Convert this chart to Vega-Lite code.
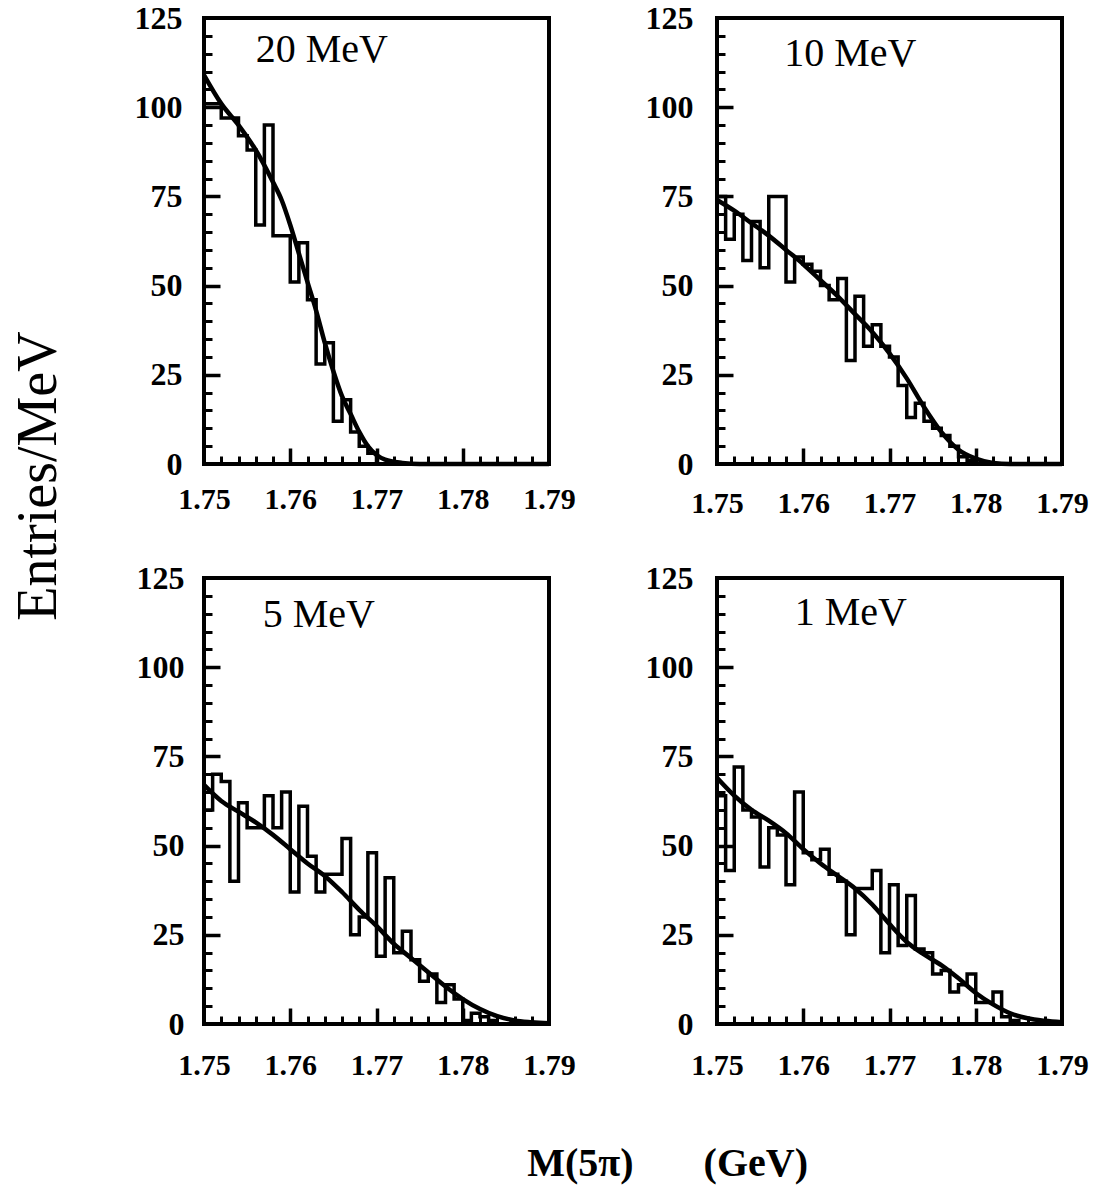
{
  "$schema": "https://vega.github.io/schema/vega-lite/v6.json",
  "background": "white",
  "padding": {"left": 10, "top": 0, "right": 5, "bottom": 5},
  "config": {
    "view": {"stroke": "black", "strokeWidth": 4},
    "font": "Liberation Serif"
  },
  "datasets": {
    "hist": [
      {"p":"20 MeV","m":1.750,"v":101},{"p":"20 MeV","m":1.751,"v":101},{"p":"20 MeV","m":1.752,"v":97},{"p":"20 MeV","m":1.753,"v":97},{"p":"20 MeV","m":1.754,"v":92},{"p":"20 MeV","m":1.755,"v":88},{"p":"20 MeV","m":1.756,"v":67},{"p":"20 MeV","m":1.757,"v":95},{"p":"20 MeV","m":1.758,"v":64},{"p":"20 MeV","m":1.759,"v":64},{"p":"20 MeV","m":1.760,"v":51},{"p":"20 MeV","m":1.761,"v":62},{"p":"20 MeV","m":1.762,"v":46},{"p":"20 MeV","m":1.763,"v":28},{"p":"20 MeV","m":1.764,"v":34},{"p":"20 MeV","m":1.765,"v":12},{"p":"20 MeV","m":1.766,"v":18},{"p":"20 MeV","m":1.767,"v":9},{"p":"20 MeV","m":1.768,"v":5},{"p":"20 MeV","m":1.769,"v":3},{"p":"20 MeV","m":1.770,"v":0},{"p":"20 MeV","m":1.771,"v":0},{"p":"20 MeV","m":1.772,"v":0},{"p":"20 MeV","m":1.773,"v":0},{"p":"20 MeV","m":1.774,"v":0},{"p":"20 MeV","m":1.775,"v":0},{"p":"20 MeV","m":1.776,"v":0},{"p":"20 MeV","m":1.777,"v":0},{"p":"20 MeV","m":1.778,"v":0},{"p":"20 MeV","m":1.779,"v":0},{"p":"20 MeV","m":1.780,"v":0},{"p":"20 MeV","m":1.781,"v":0},{"p":"20 MeV","m":1.782,"v":0},{"p":"20 MeV","m":1.783,"v":0},{"p":"20 MeV","m":1.784,"v":0},{"p":"20 MeV","m":1.785,"v":0},{"p":"20 MeV","m":1.786,"v":0},{"p":"20 MeV","m":1.787,"v":0},{"p":"20 MeV","m":1.788,"v":0},{"p":"20 MeV","m":1.789,"v":0},{"p":"20 MeV","m":1.790,"v":0},
      {"p":"10 MeV","m":1.750,"v":75},{"p":"10 MeV","m":1.751,"v":63},{"p":"10 MeV","m":1.752,"v":70},{"p":"10 MeV","m":1.753,"v":57},{"p":"10 MeV","m":1.754,"v":68},{"p":"10 MeV","m":1.755,"v":55},{"p":"10 MeV","m":1.756,"v":75},{"p":"10 MeV","m":1.757,"v":75},{"p":"10 MeV","m":1.758,"v":51},{"p":"10 MeV","m":1.759,"v":58},{"p":"10 MeV","m":1.760,"v":56},{"p":"10 MeV","m":1.761,"v":54},{"p":"10 MeV","m":1.762,"v":50},{"p":"10 MeV","m":1.763,"v":46},{"p":"10 MeV","m":1.764,"v":52},{"p":"10 MeV","m":1.765,"v":29},{"p":"10 MeV","m":1.766,"v":47},{"p":"10 MeV","m":1.767,"v":33},{"p":"10 MeV","m":1.768,"v":39},{"p":"10 MeV","m":1.769,"v":33},{"p":"10 MeV","m":1.770,"v":30},{"p":"10 MeV","m":1.771,"v":22},{"p":"10 MeV","m":1.772,"v":13},{"p":"10 MeV","m":1.773,"v":17},{"p":"10 MeV","m":1.774,"v":12},{"p":"10 MeV","m":1.775,"v":10},{"p":"10 MeV","m":1.776,"v":8},{"p":"10 MeV","m":1.777,"v":5},{"p":"10 MeV","m":1.778,"v":2},{"p":"10 MeV","m":1.779,"v":1},{"p":"10 MeV","m":1.780,"v":0},{"p":"10 MeV","m":1.781,"v":0},{"p":"10 MeV","m":1.782,"v":0},{"p":"10 MeV","m":1.783,"v":0},{"p":"10 MeV","m":1.784,"v":0},{"p":"10 MeV","m":1.785,"v":0},{"p":"10 MeV","m":1.786,"v":0},{"p":"10 MeV","m":1.787,"v":0},{"p":"10 MeV","m":1.788,"v":0},{"p":"10 MeV","m":1.789,"v":0},{"p":"10 MeV","m":1.790,"v":0},
      {"p":"5 MeV","m":1.750,"v":60},{"p":"5 MeV","m":1.751,"v":70},{"p":"5 MeV","m":1.752,"v":68},{"p":"5 MeV","m":1.753,"v":40},{"p":"5 MeV","m":1.754,"v":62},{"p":"5 MeV","m":1.755,"v":55},{"p":"5 MeV","m":1.756,"v":55},{"p":"5 MeV","m":1.757,"v":64},{"p":"5 MeV","m":1.758,"v":55},{"p":"5 MeV","m":1.759,"v":65},{"p":"5 MeV","m":1.760,"v":37},{"p":"5 MeV","m":1.761,"v":61},{"p":"5 MeV","m":1.762,"v":47},{"p":"5 MeV","m":1.763,"v":37},{"p":"5 MeV","m":1.764,"v":42},{"p":"5 MeV","m":1.765,"v":42},{"p":"5 MeV","m":1.766,"v":52},{"p":"5 MeV","m":1.767,"v":25},{"p":"5 MeV","m":1.768,"v":30},{"p":"5 MeV","m":1.769,"v":48},{"p":"5 MeV","m":1.770,"v":19},{"p":"5 MeV","m":1.771,"v":41},{"p":"5 MeV","m":1.772,"v":20},{"p":"5 MeV","m":1.773,"v":26},{"p":"5 MeV","m":1.774,"v":18},{"p":"5 MeV","m":1.775,"v":12},{"p":"5 MeV","m":1.776,"v":14},{"p":"5 MeV","m":1.777,"v":6},{"p":"5 MeV","m":1.778,"v":11},{"p":"5 MeV","m":1.779,"v":7},{"p":"5 MeV","m":1.780,"v":1},{"p":"5 MeV","m":1.781,"v":3},{"p":"5 MeV","m":1.782,"v":2},{"p":"5 MeV","m":1.783,"v":1},{"p":"5 MeV","m":1.784,"v":0},{"p":"5 MeV","m":1.785,"v":0},{"p":"5 MeV","m":1.786,"v":0},{"p":"5 MeV","m":1.787,"v":0},{"p":"5 MeV","m":1.788,"v":0},{"p":"5 MeV","m":1.789,"v":0},{"p":"5 MeV","m":1.790,"v":0},
      {"p":"1 MeV","m":1.750,"v":64},{"p":"1 MeV","m":1.751,"v":43},{"p":"1 MeV","m":1.752,"v":72},{"p":"1 MeV","m":1.753,"v":60},{"p":"1 MeV","m":1.754,"v":58},{"p":"1 MeV","m":1.755,"v":44},{"p":"1 MeV","m":1.756,"v":55},{"p":"1 MeV","m":1.757,"v":53},{"p":"1 MeV","m":1.758,"v":39},{"p":"1 MeV","m":1.759,"v":65},{"p":"1 MeV","m":1.760,"v":48},{"p":"1 MeV","m":1.761,"v":46},{"p":"1 MeV","m":1.762,"v":49},{"p":"1 MeV","m":1.763,"v":42},{"p":"1 MeV","m":1.764,"v":40},{"p":"1 MeV","m":1.765,"v":25},{"p":"1 MeV","m":1.766,"v":38},{"p":"1 MeV","m":1.767,"v":38},{"p":"1 MeV","m":1.768,"v":43},{"p":"1 MeV","m":1.769,"v":20},{"p":"1 MeV","m":1.770,"v":39},{"p":"1 MeV","m":1.771,"v":22},{"p":"1 MeV","m":1.772,"v":36},{"p":"1 MeV","m":1.773,"v":21},{"p":"1 MeV","m":1.774,"v":20},{"p":"1 MeV","m":1.775,"v":14},{"p":"1 MeV","m":1.776,"v":15},{"p":"1 MeV","m":1.777,"v":9},{"p":"1 MeV","m":1.778,"v":11},{"p":"1 MeV","m":1.779,"v":14},{"p":"1 MeV","m":1.780,"v":6},{"p":"1 MeV","m":1.781,"v":6},{"p":"1 MeV","m":1.782,"v":9},{"p":"1 MeV","m":1.783,"v":2},{"p":"1 MeV","m":1.784,"v":1},{"p":"1 MeV","m":1.785,"v":0},{"p":"1 MeV","m":1.786,"v":0},{"p":"1 MeV","m":1.787,"v":0},{"p":"1 MeV","m":1.788,"v":0},{"p":"1 MeV","m":1.789,"v":0},{"p":"1 MeV","m":1.790,"v":0}
    ],
    "fit": [
      {"p":"20 MeV","m":1.750,"v":109},{"p":"20 MeV","m":1.752,"v":101},{"p":"20 MeV","m":1.754,"v":95},{"p":"20 MeV","m":1.756,"v":88},{"p":"20 MeV","m":1.758,"v":79},{"p":"20 MeV","m":1.759,"v":74},{"p":"20 MeV","m":1.760,"v":67},{"p":"20 MeV","m":1.761,"v":59},{"p":"20 MeV","m":1.762,"v":51},{"p":"20 MeV","m":1.763,"v":43},{"p":"20 MeV","m":1.764,"v":34},{"p":"20 MeV","m":1.765,"v":26},{"p":"20 MeV","m":1.766,"v":19},{"p":"20 MeV","m":1.767,"v":14},{"p":"20 MeV","m":1.768,"v":9},{"p":"20 MeV","m":1.769,"v":5},{"p":"20 MeV","m":1.770,"v":2.5},{"p":"20 MeV","m":1.771,"v":1.2},{"p":"20 MeV","m":1.773,"v":0.3},{"p":"20 MeV","m":1.775,"v":0},{"p":"20 MeV","m":1.790,"v":0},
      {"p":"10 MeV","m":1.750,"v":74},{"p":"10 MeV","m":1.752,"v":71},{"p":"10 MeV","m":1.754,"v":67.5},{"p":"10 MeV","m":1.756,"v":64},{"p":"10 MeV","m":1.758,"v":60},{"p":"10 MeV","m":1.760,"v":56},{"p":"10 MeV","m":1.762,"v":51.5},{"p":"10 MeV","m":1.764,"v":47},{"p":"10 MeV","m":1.766,"v":42},{"p":"10 MeV","m":1.768,"v":37},{"p":"10 MeV","m":1.770,"v":31},{"p":"10 MeV","m":1.772,"v":24},{"p":"10 MeV","m":1.774,"v":16},{"p":"10 MeV","m":1.776,"v":9},{"p":"10 MeV","m":1.778,"v":4},{"p":"10 MeV","m":1.780,"v":1.5},{"p":"10 MeV","m":1.782,"v":0.3},{"p":"10 MeV","m":1.784,"v":0},{"p":"10 MeV","m":1.790,"v":0},
      {"p":"5 MeV","m":1.750,"v":67},{"p":"5 MeV","m":1.752,"v":62.5},{"p":"5 MeV","m":1.754,"v":59.5},{"p":"5 MeV","m":1.756,"v":56.5},{"p":"5 MeV","m":1.758,"v":53},{"p":"5 MeV","m":1.760,"v":49},{"p":"5 MeV","m":1.762,"v":45},{"p":"5 MeV","m":1.764,"v":41.5},{"p":"5 MeV","m":1.766,"v":37},{"p":"5 MeV","m":1.768,"v":32},{"p":"5 MeV","m":1.770,"v":27.5},{"p":"5 MeV","m":1.772,"v":22.5},{"p":"5 MeV","m":1.774,"v":18.5},{"p":"5 MeV","m":1.776,"v":14.5},{"p":"5 MeV","m":1.778,"v":10.5},{"p":"5 MeV","m":1.780,"v":7},{"p":"5 MeV","m":1.782,"v":4.2},{"p":"5 MeV","m":1.784,"v":2.2},{"p":"5 MeV","m":1.786,"v":1},{"p":"5 MeV","m":1.788,"v":0.5},{"p":"5 MeV","m":1.790,"v":0.2},
      {"p":"1 MeV","m":1.750,"v":69},{"p":"1 MeV","m":1.752,"v":64},{"p":"1 MeV","m":1.754,"v":60},{"p":"1 MeV","m":1.756,"v":57},{"p":"1 MeV","m":1.758,"v":53.5},{"p":"1 MeV","m":1.760,"v":49},{"p":"1 MeV","m":1.762,"v":45},{"p":"1 MeV","m":1.764,"v":41.5},{"p":"1 MeV","m":1.766,"v":38},{"p":"1 MeV","m":1.768,"v":33.5},{"p":"1 MeV","m":1.770,"v":28},{"p":"1 MeV","m":1.772,"v":23},{"p":"1 MeV","m":1.774,"v":19.5},{"p":"1 MeV","m":1.776,"v":16.5},{"p":"1 MeV","m":1.778,"v":12.8},{"p":"1 MeV","m":1.780,"v":8.7},{"p":"1 MeV","m":1.782,"v":5.5},{"p":"1 MeV","m":1.784,"v":3},{"p":"1 MeV","m":1.786,"v":1.6},{"p":"1 MeV","m":1.788,"v":0.9},{"p":"1 MeV","m":1.790,"v":0.5}
    ],
    "labels": [
      {"p":"20 MeV","label":"20 MeV"},{"p":"10 MeV","label":"10 MeV"},{"p":"5 MeV","label":"5 MeV"},{"p":"1 MeV","label":"1 MeV"}
    ]
  },
  "title": {"text": "M(5π)\u00a0\u00a0\u00a0\u00a0\u00a0\u00a0\u00a0(GeV)", "orient": "bottom", "anchor": "middle", "font": "Liberation Serif", "fontSize": 40, "fontWeight": "bold", "color": "black", "offset": 62, "dx": 117},
  "vconcat": [
    {
      "title": {"text": "Entries/MeV", "orient": "left", "anchor": "middle", "font": "Liberation Serif", "fontSize": 56, "fontWeight": "normal", "color": "black", "offset": 64, "dx": 65},
      "columns": 2,
      "bounds": "flush",
      "spacing": {"row": 114, "column": 168},
      "concat": [
        {
          "width": 345, "height": 446,
          "resolve": {"axis": {"x": "independent", "y": "independent"}},
          "layer": [
            {"data": {"name": "hist"}, "transform": [{"filter": "datum.p === '20 MeV'"}],
             "mark": {"type": "line", "interpolate": "step-after", "color": "black", "strokeWidth": 3.5},
             "encoding": {
               "x": {"field": "m", "type": "quantitative", "scale": {"domain": [1.75, 1.79], "nice": false, "zero": false}, "axis": {"orient": "bottom", "values": [1.75, 1.76, 1.77, 1.78, 1.79], "format": ".2f", "ticks": false, "domain": false, "grid": false, "title": null, "labelFont": "Liberation Serif", "labelFontSize": 30, "labelFontWeight": "bold", "labelColor": "black", "labelPadding": 20, "labelFlush": false, "labelOverlap": false}},
               "y": {"field": "v", "type": "quantitative", "scale": {"domain": [0, 125], "nice": false}, "axis": {"orient": "left", "values": [0, 25, 50, 75, 100, 125], "ticks": false, "domain": false, "grid": false, "title": null, "labelFont": "Liberation Serif", "labelFontSize": 32, "labelFontWeight": "bold", "labelColor": "black", "labelPadding": 22}}
             }},
            {"data": {"name": "fit"}, "transform": [{"filter": "datum.p === '20 MeV'"}],
             "mark": {"type": "line", "interpolate": "monotone", "color": "black", "strokeWidth": 4.5},
             "encoding": {
               "x": {"field": "m", "type": "quantitative", "axis": {"orient": "top", "offset": -446, "zindex": 1, "values": [1.76, 1.77, 1.78], "tickSize": 16, "tickWidth": 3.5, "tickColor": "black", "labels": false, "domain": false, "grid": false, "title": null}},
               "y": {"field": "v", "type": "quantitative", "axis": {"orient": "right", "offset": -345, "zindex": 1, "values": [25, 50, 75, 100], "tickSize": 16, "tickWidth": 3.5, "tickColor": "black", "labels": false, "domain": false, "grid": false, "title": null}}
             }},
            {"data": {"name": "fit"}, "transform": [{"filter": "datum.p === '20 MeV'"}],
             "mark": {"type": "line", "interpolate": "monotone", "strokeOpacity": 0},
             "encoding": {
               "x": {"field": "m", "type": "quantitative", "axis": {"orient": "top", "offset": -446, "zindex": 1, "values": [1.752, 1.754, 1.756, 1.758, 1.762, 1.764, 1.766, 1.768, 1.772, 1.774, 1.776, 1.778, 1.782, 1.784, 1.786, 1.788], "tickSize": 8, "tickWidth": 3, "tickColor": "black", "labels": false, "domain": false, "grid": false, "title": null}},
               "y": {"field": "v", "type": "quantitative", "axis": {"orient": "right", "offset": -345, "zindex": 1, "values": [5, 10, 15, 20, 30, 35, 40, 45, 55, 60, 65, 70, 80, 85, 90, 95, 105, 110, 115, 120], "tickSize": 8, "tickWidth": 3, "tickColor": "black", "labels": false, "domain": false, "grid": false, "title": null}}
             }},
            {"data": {"name": "labels"}, "transform": [{"filter": "datum.p === '20 MeV'"}],
             "mark": {"type": "text", "font": "Liberation Serif", "fontSize": 40, "align": "left", "baseline": "middle", "color": "black"},
             "encoding": {"text": {"field": "label"}, "x": {"datum": 1.756, "axis": null}, "y": {"datum": 116, "axis": null}}}
          ]
        },
        {
          "width": 345, "height": 446,
          "resolve": {"axis": {"x": "independent", "y": "independent"}},
          "layer": [
            {"data": {"name": "hist"}, "transform": [{"filter": "datum.p === '10 MeV'"}],
             "mark": {"type": "line", "interpolate": "step-after", "color": "black", "strokeWidth": 3.5},
             "encoding": {
               "x": {"field": "m", "type": "quantitative", "scale": {"domain": [1.75, 1.79], "nice": false, "zero": false}, "axis": {"orient": "bottom", "values": [1.75, 1.76, 1.77, 1.78, 1.79], "format": ".2f", "ticks": false, "domain": false, "grid": false, "title": null, "labelFont": "Liberation Serif", "labelFontSize": 30, "labelFontWeight": "bold", "labelColor": "black", "labelPadding": 24, "labelFlush": false, "labelOverlap": false}},
               "y": {"field": "v", "type": "quantitative", "scale": {"domain": [0, 125], "nice": false}, "axis": {"orient": "left", "values": [0, 25, 50, 75, 100, 125], "ticks": false, "domain": false, "grid": false, "title": null, "labelFont": "Liberation Serif", "labelFontSize": 32, "labelFontWeight": "bold", "labelColor": "black", "labelPadding": 24}}
             }},
            {"data": {"name": "fit"}, "transform": [{"filter": "datum.p === '10 MeV'"}],
             "mark": {"type": "line", "interpolate": "monotone", "color": "black", "strokeWidth": 4.5},
             "encoding": {
               "x": {"field": "m", "type": "quantitative", "axis": {"orient": "top", "offset": -446, "zindex": 1, "values": [1.76, 1.77, 1.78], "tickSize": 16, "tickWidth": 3.5, "tickColor": "black", "labels": false, "domain": false, "grid": false, "title": null}},
               "y": {"field": "v", "type": "quantitative", "axis": {"orient": "right", "offset": -345, "zindex": 1, "values": [25, 50, 75, 100], "tickSize": 16, "tickWidth": 3.5, "tickColor": "black", "labels": false, "domain": false, "grid": false, "title": null}}
             }},
            {"data": {"name": "fit"}, "transform": [{"filter": "datum.p === '10 MeV'"}],
             "mark": {"type": "line", "interpolate": "monotone", "strokeOpacity": 0},
             "encoding": {
               "x": {"field": "m", "type": "quantitative", "axis": {"orient": "top", "offset": -446, "zindex": 1, "values": [1.752, 1.754, 1.756, 1.758, 1.762, 1.764, 1.766, 1.768, 1.772, 1.774, 1.776, 1.778, 1.782, 1.784, 1.786, 1.788], "tickSize": 8, "tickWidth": 3, "tickColor": "black", "labels": false, "domain": false, "grid": false, "title": null}},
               "y": {"field": "v", "type": "quantitative", "axis": {"orient": "right", "offset": -345, "zindex": 1, "values": [5, 10, 15, 20, 30, 35, 40, 45, 55, 60, 65, 70, 80, 85, 90, 95, 105, 110, 115, 120], "tickSize": 8, "tickWidth": 3, "tickColor": "black", "labels": false, "domain": false, "grid": false, "title": null}}
             }},
            {"data": {"name": "labels"}, "transform": [{"filter": "datum.p === '10 MeV'"}],
             "mark": {"type": "text", "font": "Liberation Serif", "fontSize": 40, "align": "left", "baseline": "middle", "color": "black"},
             "encoding": {"text": {"field": "label"}, "x": {"datum": 1.7578, "axis": null}, "y": {"datum": 115, "axis": null}}}
          ]
        },
        {
          "width": 345, "height": 446,
          "resolve": {"axis": {"x": "independent", "y": "independent"}},
          "layer": [
            {"data": {"name": "hist"}, "transform": [{"filter": "datum.p === '5 MeV'"}],
             "mark": {"type": "line", "interpolate": "step-after", "color": "black", "strokeWidth": 3.5},
             "encoding": {
               "x": {"field": "m", "type": "quantitative", "scale": {"domain": [1.75, 1.79], "nice": false, "zero": false}, "axis": {"orient": "bottom", "values": [1.75, 1.76, 1.77, 1.78, 1.79], "format": ".2f", "ticks": false, "domain": false, "grid": false, "title": null, "labelFont": "Liberation Serif", "labelFontSize": 30, "labelFontWeight": "bold", "labelColor": "black", "labelPadding": 26, "labelFlush": false, "labelOverlap": false}},
               "y": {"field": "v", "type": "quantitative", "scale": {"domain": [0, 125], "nice": false}, "axis": {"orient": "left", "values": [0, 25, 50, 75, 100, 125], "ticks": false, "domain": false, "grid": false, "title": null, "labelFont": "Liberation Serif", "labelFontSize": 32, "labelFontWeight": "bold", "labelColor": "black", "labelPadding": 20}}
             }},
            {"data": {"name": "fit"}, "transform": [{"filter": "datum.p === '5 MeV'"}],
             "mark": {"type": "line", "interpolate": "monotone", "color": "black", "strokeWidth": 4.5},
             "encoding": {
               "x": {"field": "m", "type": "quantitative", "axis": {"orient": "top", "offset": -446, "zindex": 1, "values": [1.76, 1.77, 1.78], "tickSize": 16, "tickWidth": 3.5, "tickColor": "black", "labels": false, "domain": false, "grid": false, "title": null}},
               "y": {"field": "v", "type": "quantitative", "axis": {"orient": "right", "offset": -345, "zindex": 1, "values": [25, 50, 75, 100], "tickSize": 16, "tickWidth": 3.5, "tickColor": "black", "labels": false, "domain": false, "grid": false, "title": null}}
             }},
            {"data": {"name": "fit"}, "transform": [{"filter": "datum.p === '5 MeV'"}],
             "mark": {"type": "line", "interpolate": "monotone", "strokeOpacity": 0},
             "encoding": {
               "x": {"field": "m", "type": "quantitative", "axis": {"orient": "top", "offset": -446, "zindex": 1, "values": [1.752, 1.754, 1.756, 1.758, 1.762, 1.764, 1.766, 1.768, 1.772, 1.774, 1.776, 1.778, 1.782, 1.784, 1.786, 1.788], "tickSize": 8, "tickWidth": 3, "tickColor": "black", "labels": false, "domain": false, "grid": false, "title": null}},
               "y": {"field": "v", "type": "quantitative", "axis": {"orient": "right", "offset": -345, "zindex": 1, "values": [5, 10, 15, 20, 30, 35, 40, 45, 55, 60, 65, 70, 80, 85, 90, 95, 105, 110, 115, 120], "tickSize": 8, "tickWidth": 3, "tickColor": "black", "labels": false, "domain": false, "grid": false, "title": null}}
             }},
            {"data": {"name": "labels"}, "transform": [{"filter": "datum.p === '5 MeV'"}],
             "mark": {"type": "text", "font": "Liberation Serif", "fontSize": 40, "align": "left", "baseline": "middle", "color": "black"},
             "encoding": {"text": {"field": "label"}, "x": {"datum": 1.7568, "axis": null}, "y": {"datum": 114.5, "axis": null}}}
          ]
        },
        {
          "width": 345, "height": 446,
          "resolve": {"axis": {"x": "independent", "y": "independent"}},
          "layer": [
            {"data": {"name": "hist"}, "transform": [{"filter": "datum.p === '1 MeV'"}],
             "mark": {"type": "line", "interpolate": "step-after", "color": "black", "strokeWidth": 3.5},
             "encoding": {
               "x": {"field": "m", "type": "quantitative", "scale": {"domain": [1.75, 1.79], "nice": false, "zero": false}, "axis": {"orient": "bottom", "values": [1.75, 1.76, 1.77, 1.78, 1.79], "format": ".2f", "ticks": false, "domain": false, "grid": false, "title": null, "labelFont": "Liberation Serif", "labelFontSize": 30, "labelFontWeight": "bold", "labelColor": "black", "labelPadding": 26, "labelFlush": false, "labelOverlap": false}},
               "y": {"field": "v", "type": "quantitative", "scale": {"domain": [0, 125], "nice": false}, "axis": {"orient": "left", "values": [0, 25, 50, 75, 100, 125], "ticks": false, "domain": false, "grid": false, "title": null, "labelFont": "Liberation Serif", "labelFontSize": 32, "labelFontWeight": "bold", "labelColor": "black", "labelPadding": 24}}
             }},
            {"data": {"name": "fit"}, "transform": [{"filter": "datum.p === '1 MeV'"}],
             "mark": {"type": "line", "interpolate": "monotone", "color": "black", "strokeWidth": 4.5},
             "encoding": {
               "x": {"field": "m", "type": "quantitative", "axis": {"orient": "top", "offset": -446, "zindex": 1, "values": [1.76, 1.77, 1.78], "tickSize": 16, "tickWidth": 3.5, "tickColor": "black", "labels": false, "domain": false, "grid": false, "title": null}},
               "y": {"field": "v", "type": "quantitative", "axis": {"orient": "right", "offset": -345, "zindex": 1, "values": [25, 50, 75, 100], "tickSize": 16, "tickWidth": 3.5, "tickColor": "black", "labels": false, "domain": false, "grid": false, "title": null}}
             }},
            {"data": {"name": "fit"}, "transform": [{"filter": "datum.p === '1 MeV'"}],
             "mark": {"type": "line", "interpolate": "monotone", "strokeOpacity": 0},
             "encoding": {
               "x": {"field": "m", "type": "quantitative", "axis": {"orient": "top", "offset": -446, "zindex": 1, "values": [1.752, 1.754, 1.756, 1.758, 1.762, 1.764, 1.766, 1.768, 1.772, 1.774, 1.776, 1.778, 1.782, 1.784, 1.786, 1.788], "tickSize": 8, "tickWidth": 3, "tickColor": "black", "labels": false, "domain": false, "grid": false, "title": null}},
               "y": {"field": "v", "type": "quantitative", "axis": {"orient": "right", "offset": -345, "zindex": 1, "values": [5, 10, 15, 20, 30, 35, 40, 45, 55, 60, 65, 70, 80, 85, 90, 95, 105, 110, 115, 120], "tickSize": 8, "tickWidth": 3, "tickColor": "black", "labels": false, "domain": false, "grid": false, "title": null}}
             }},
            {"data": {"name": "labels"}, "transform": [{"filter": "datum.p === '1 MeV'"}],
             "mark": {"type": "text", "font": "Liberation Serif", "fontSize": 40, "align": "left", "baseline": "middle", "color": "black"},
             "encoding": {"text": {"field": "label"}, "x": {"datum": 1.759, "axis": null}, "y": {"datum": 115.3, "axis": null}}}
          ]
        }
      ]
    }
  ]
}
